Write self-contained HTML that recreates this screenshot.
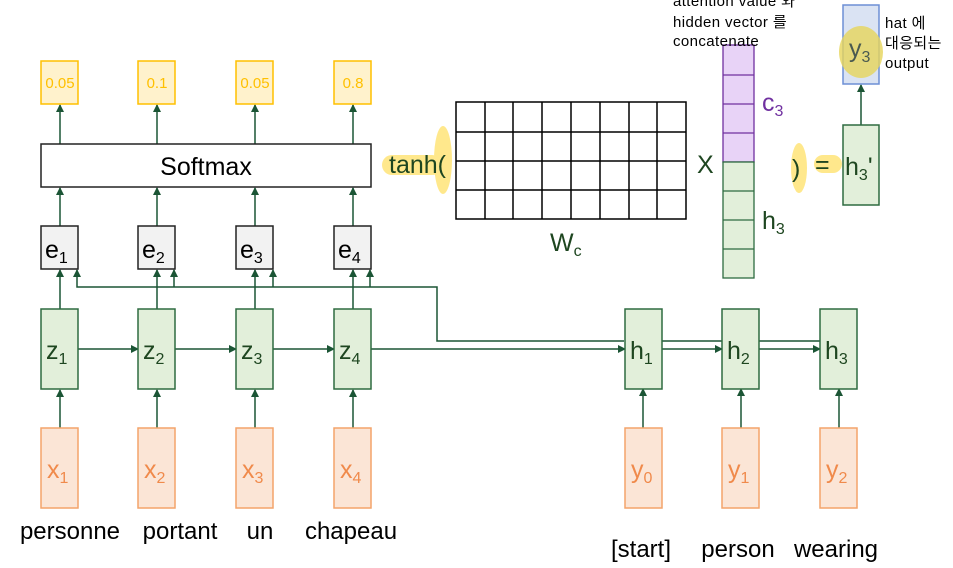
<!DOCTYPE html>
<html><head><meta charset="utf-8"><style>
html,body{margin:0;padding:0;background:#fff;}
svg{display:block;font-family:"Liberation Sans","Noto Sans CJK KR",sans-serif;}
</style></head><body>
<svg width="953" height="568" viewBox="0 0 953 568" xmlns="http://www.w3.org/2000/svg">
<defs>
<marker id="a" markerWidth="8" markerHeight="8" refX="7" refY="4" orient="auto" markerUnits="userSpaceOnUse"><path d="M0,0 L8,4 L0,8 z" fill="#1b5535"/></marker>
</defs>
<g fill="#ffe680" opacity="0.9">
<rect x="382" y="155" width="60" height="20" rx="10"/>
<ellipse cx="443" cy="160" rx="9" ry="34"/>
<ellipse cx="799" cy="168" rx="8" ry="25"/>
<rect x="814" y="155" width="28" height="18" rx="9"/>
</g>
<g stroke="#1b5535" stroke-width="1.5" fill="none">
<line x1="60" y1="144" x2="60" y2="105" marker-end="url(#a)"/>
<line x1="157" y1="144" x2="157" y2="105" marker-end="url(#a)"/>
<line x1="255" y1="144" x2="255" y2="105" marker-end="url(#a)"/>
<line x1="353" y1="144" x2="353" y2="105" marker-end="url(#a)"/>
<line x1="60" y1="226" x2="60" y2="188" marker-end="url(#a)"/>
<line x1="157" y1="226" x2="157" y2="188" marker-end="url(#a)"/>
<line x1="255" y1="226" x2="255" y2="188" marker-end="url(#a)"/>
<line x1="353" y1="226" x2="353" y2="188" marker-end="url(#a)"/>
<line x1="60" y1="309" x2="60" y2="270" marker-end="url(#a)"/>
<line x1="157" y1="309" x2="157" y2="270" marker-end="url(#a)"/>
<line x1="255" y1="309" x2="255" y2="270" marker-end="url(#a)"/>
<line x1="353" y1="309" x2="353" y2="270" marker-end="url(#a)"/>
<polyline points="624,341 437,341 437,287 77,287 77,270" marker-end="url(#a)"/>
<line x1="174" y1="287" x2="174" y2="270" marker-end="url(#a)"/>
<line x1="273" y1="287" x2="273" y2="270" marker-end="url(#a)"/>
<line x1="370" y1="287" x2="370" y2="270" marker-end="url(#a)"/>
<line x1="78" y1="349" x2="138" y2="349" marker-end="url(#a)"/>
<line x1="175" y1="349" x2="236" y2="349" marker-end="url(#a)"/>
<line x1="273" y1="349" x2="334" y2="349" marker-end="url(#a)"/>
<line x1="371" y1="349" x2="625" y2="349" marker-end="url(#a)"/>
<line x1="662" y1="341" x2="723" y2="341"/>
<line x1="662" y1="349" x2="722" y2="349" marker-end="url(#a)"/>
<line x1="759" y1="341" x2="821" y2="341"/>
<line x1="759" y1="349" x2="820" y2="349" marker-end="url(#a)"/>
<line x1="60" y1="428" x2="60" y2="390" marker-end="url(#a)"/>
<line x1="157" y1="428" x2="157" y2="390" marker-end="url(#a)"/>
<line x1="255" y1="428" x2="255" y2="390" marker-end="url(#a)"/>
<line x1="353" y1="428" x2="353" y2="390" marker-end="url(#a)"/>
<line x1="643" y1="428" x2="643" y2="389" marker-end="url(#a)"/>
<line x1="741" y1="428" x2="741" y2="389" marker-end="url(#a)"/>
<line x1="839" y1="428" x2="839" y2="389" marker-end="url(#a)"/>
<line x1="861" y1="125" x2="861" y2="85" marker-end="url(#a)"/>
</g>
<g fill="#fff2cc" stroke="#ffc000" stroke-width="1.5">
<rect x="41" y="61" width="37" height="43"/><rect x="138" y="61" width="37" height="43"/>
<rect x="236" y="61" width="37" height="43"/><rect x="334" y="61" width="37" height="43"/>
</g>
<g fill="#ffc000" font-size="15" text-anchor="middle">
<text x="60" y="88">0.05</text><text x="157" y="88">0.1</text><text x="255" y="88">0.05</text><text x="353" y="88">0.8</text>
</g>
<rect x="41" y="144" width="330" height="43" fill="#fff" stroke="#222" stroke-width="1.5"/>
<text x="206" y="175" font-size="25" text-anchor="middle" fill="#000">Softmax</text>
<g fill="#f2f2f2" stroke="#222" stroke-width="1.5">
<rect x="41" y="226" width="37" height="43"/><rect x="138" y="226" width="37" height="43"/>
<rect x="236" y="226" width="37" height="43"/><rect x="334" y="226" width="37" height="43"/>
</g>
<g font-size="25" fill="#000">
<text x="45" y="258">e<tspan font-size="16" dy="5">1</tspan></text>
<text x="142" y="258">e<tspan font-size="16" dy="5">2</tspan></text>
<text x="240" y="258">e<tspan font-size="16" dy="5">3</tspan></text>
<text x="338" y="258">e<tspan font-size="16" dy="5">4</tspan></text>
</g>
<g fill="#e2efda" stroke="#2e6b40" stroke-width="1.5">
<rect x="41" y="309" width="37" height="80"/><rect x="138" y="309" width="37" height="80"/>
<rect x="236" y="309" width="37" height="80"/><rect x="334" y="309" width="37" height="80"/>
<rect x="625" y="309" width="37" height="80"/><rect x="722" y="309" width="37" height="80"/>
<rect x="820" y="309" width="37" height="80"/>
<rect x="843" y="125" width="36" height="80"/>
</g>
<g font-size="25" fill="#1e4620">
<text x="46" y="359">z<tspan font-size="16" dy="5">1</tspan></text>
<text x="143" y="359">z<tspan font-size="16" dy="5">2</tspan></text>
<text x="241" y="359">z<tspan font-size="16" dy="5">3</tspan></text>
<text x="339" y="359">z<tspan font-size="16" dy="5">4</tspan></text>
<text x="630" y="359">h<tspan font-size="16" dy="5">1</tspan></text>
<text x="727" y="359">h<tspan font-size="16" dy="5">2</tspan></text>
<text x="825" y="359">h<tspan font-size="16" dy="5">3</tspan></text>
<text x="845" y="175">h<tspan font-size="16" dy="5">3</tspan><tspan dy="-5">'</tspan></text>
<text x="389" y="173">tanh(</text>
<text x="697" y="173">X</text>
<text x="792" y="177">)</text>
<text x="815" y="173">=</text>
<text x="762" y="229">h<tspan font-size="16" dy="5">3</tspan></text>
<text x="550" y="251">W<tspan font-size="16" dy="5">c</tspan></text>
</g>
<text x="762" y="111" font-size="25" fill="#7030a0">c<tspan font-size="16" dy="5">3</tspan></text>
<g fill="#fbe5d6" stroke="#f4a46a" stroke-width="1.5">
<rect x="41" y="428" width="37" height="80"/><rect x="138" y="428" width="37" height="80"/>
<rect x="236" y="428" width="37" height="80"/><rect x="334" y="428" width="37" height="80"/>
<rect x="625" y="428" width="37" height="80"/><rect x="722" y="428" width="37" height="80"/>
<rect x="820" y="428" width="37" height="80"/>
</g>
<g font-size="25" fill="#f08a4b">
<text x="47" y="478">x<tspan font-size="16" dy="5">1</tspan></text>
<text x="144" y="478">x<tspan font-size="16" dy="5">2</tspan></text>
<text x="242" y="478">x<tspan font-size="16" dy="5">3</tspan></text>
<text x="340" y="478">x<tspan font-size="16" dy="5">4</tspan></text>
<text x="631" y="478">y<tspan font-size="16" dy="5">0</tspan></text>
<text x="728" y="478">y<tspan font-size="16" dy="5">1</tspan></text>
<text x="826" y="478">y<tspan font-size="16" dy="5">2</tspan></text>
</g>
<g font-size="24" fill="#000" text-anchor="middle">
<text x="70" y="539">personne</text><text x="180" y="539">portant</text>
<text x="260" y="539">un</text><text x="351" y="539">chapeau</text>
<text x="641" y="557">[start]</text><text x="738" y="557">person</text><text x="836" y="557">wearing</text>
</g>
<g stroke="#000" stroke-width="1.5" fill="none">
<rect x="456" y="102" width="230" height="117" fill="#fff"/>
<line x1="456" y1="132" x2="686" y2="132"/><line x1="456" y1="161" x2="686" y2="161"/><line x1="456" y1="190" x2="686" y2="190"/>
<line x1="485" y1="102" x2="485" y2="219"/><line x1="513" y1="102" x2="513" y2="219"/>
<line x1="542" y1="102" x2="542" y2="219"/><line x1="571" y1="102" x2="571" y2="219"/>
<line x1="600" y1="102" x2="600" y2="219"/><line x1="629" y1="102" x2="629" y2="219"/>
<line x1="657" y1="102" x2="657" y2="219"/>
</g>
<g stroke="#7030a0" stroke-width="1.3" fill="#e8d3f7">
<rect x="723" y="45" width="31" height="117"/>
<line x1="723" y1="75" x2="754" y2="75"/><line x1="723" y1="104" x2="754" y2="104"/><line x1="723" y1="133" x2="754" y2="133"/>
</g>
<g stroke="#2e6b40" stroke-width="1.3" fill="#e2efda">
<rect x="723" y="162" width="31" height="116"/>
<line x1="723" y1="191" x2="754" y2="191"/><line x1="723" y1="220" x2="754" y2="220"/><line x1="723" y1="249" x2="754" y2="249"/>
</g>
<rect x="843" y="5" width="36" height="79" fill="#dae3f3" stroke="#6d8fd5" stroke-width="1.5"/>
<ellipse cx="861" cy="52" rx="22" ry="26" fill="#e6d45a" opacity="0.8"/>
<text x="849" y="57" font-size="25" fill="#4a5a50">y<tspan font-size="16" dy="5">3</tspan></text>
<g font-size="15" fill="#000" letter-spacing="0.4">
<text x="673" y="6">attention value 와</text>
<text x="673" y="27">hidden vector 를</text>
<text x="673" y="46">concatenate</text>
<text x="885" y="28">hat 에</text>
<text x="885" y="48">대응되는</text>
<text x="885" y="68">output</text>
</g>
</svg>
</body></html>
